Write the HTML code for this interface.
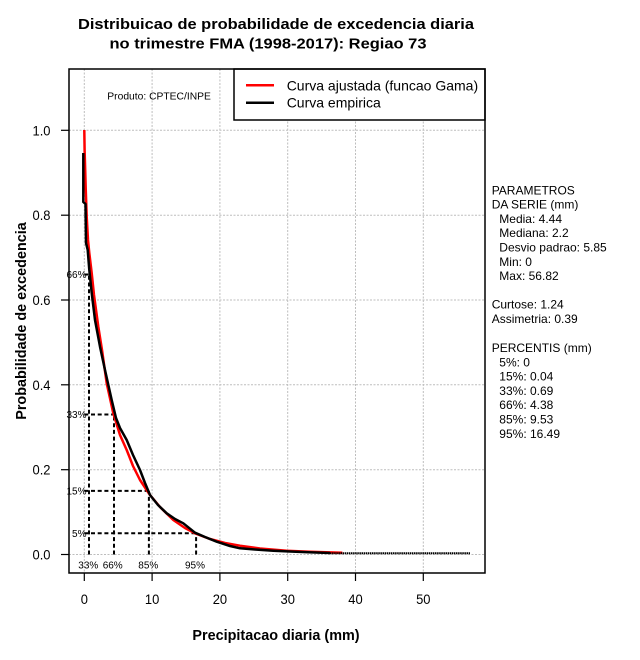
<!DOCTYPE html>
<html><head><meta charset="utf-8"><style>
html,body{margin:0;padding:0;background:#fff;}
svg{display:block;}
text{font-family:"Liberation Sans",Arial,sans-serif;fill:#000;}
</style></head><body>
<svg width="640" height="660" viewBox="0 0 640 660" xmlns="http://www.w3.org/2000/svg">
<rect x="0" y="0" width="640" height="660" fill="#fff"/>
<!-- Title -->
<text x="78" y="29" font-size="14.5" font-weight="bold" textLength="396" lengthAdjust="spacingAndGlyphs">Distribuicao de probabilidade de excedencia diaria</text>
<text x="109.5" y="48.5" font-size="14.5" font-weight="bold" textLength="317" lengthAdjust="spacingAndGlyphs">no trimestre FMA (1998-2017): Regiao 73</text>

<!-- grid -->
<g stroke="#bdbdbd" stroke-width="1" stroke-dasharray="2,1.5" fill="none">
<line x1="84.3" y1="69" x2="84.3" y2="573"/>
<line x1="152.1" y1="69" x2="152.1" y2="573"/>
<line x1="219.9" y1="69" x2="219.9" y2="573"/>
<line x1="287.7" y1="69" x2="287.7" y2="573"/>
<line x1="355.5" y1="69" x2="355.5" y2="573"/>
<line x1="423.3" y1="69" x2="423.3" y2="573"/>
<line x1="69" y1="554.5" x2="485" y2="554.5"/>
<line x1="69" y1="469.7" x2="485" y2="469.7"/>
<line x1="69" y1="384.8" x2="485" y2="384.8"/>
<line x1="69" y1="300" x2="485" y2="300"/>
<line x1="69" y1="215.2" x2="485" y2="215.2"/>
<line x1="69" y1="130.3" x2="485" y2="130.3"/>
</g>

<!-- percentile dashed lines -->
<g stroke="#000" stroke-width="2" stroke-dasharray="4,2.7" fill="none">
<line x1="84.3" y1="274.5" x2="89" y2="274.5"/>
<line x1="84.3" y1="414.5" x2="114" y2="414.5"/>
<line x1="84.3" y1="490.9" x2="148.9" y2="490.9"/>
<line x1="84.3" y1="533.3" x2="196.1" y2="533.3"/>
<line x1="89" y1="554.5" x2="89" y2="274.5"/>
<line x1="114" y1="554.5" x2="114" y2="414.5"/>
<line x1="148.9" y1="554.5" x2="148.9" y2="490.9"/>
<line x1="196.1" y1="554.5" x2="196.1" y2="533.3"/>
</g>

<!-- red fitted curve -->
<polyline fill="none" stroke="#ff0000" stroke-width="2.5" stroke-linejoin="round" points="84.3,130 84.6,150 85.2,170 85.7,188 86.7,216.7 88,240 89.3,253 91.7,273 94,295 98.3,326.7 102,350 106.7,383.3 113.3,413.3 120,435 126.7,450 133,466 140,480 150,495 160,507 173.3,520 185,528 195,533.3 210,539 225,543 240,545.7 260,548.5 286.7,550.7 310,551.8 342.3,552.7"/>
<!-- black empirical curve -->
<polyline fill="none" stroke="#000" stroke-width="2.5" stroke-linejoin="round" points="83.3,153 83.3,202 85.5,204 86,243 87.7,250 89.3,270 91.7,293 95,320 100,346.7 105,370 111.7,400 116,418 120,428 126.7,440 133,455 140,470 145,483 150,495 158,505 166.7,513.3 175,519 183.3,523.3 195,532.7 205,537 216.7,541.7 230,546 240,548.3 255,549.5 273.3,550.7 290,551.5 308.3,552.3 330,553"/>
<line x1="330" y1="553.2" x2="470" y2="553.2" stroke="#000" stroke-width="2" stroke-dasharray="1.5,0.6"/>

<!-- percentile labels -->
<g font-size="10">
<text x="86.5" y="278" text-anchor="end">66%</text>
<text x="86.5" y="418" text-anchor="end">33%</text>
<text x="86.5" y="494.5" text-anchor="end">15%</text>
<text x="86.5" y="537" text-anchor="end">5%</text>
<text x="88.3" y="568.6" text-anchor="middle">33%</text>
<text x="112.7" y="568.6" text-anchor="middle">66%</text>
<text x="148.3" y="568.6" text-anchor="middle">85%</text>
<text x="195" y="568.6" text-anchor="middle">95%</text>
</g>

<!-- Produto -->
<text x="107.3" y="99.5" font-size="10.3">Produto: CPTEC/INPE</text>

<!-- legend -->
<rect x="234" y="69" width="251" height="51" fill="#fff" stroke="#000" stroke-width="1.5"/>
<line x1="246" y1="85.3" x2="274" y2="85.3" stroke="#ff0000" stroke-width="2.5"/>
<line x1="246" y1="102.7" x2="274" y2="102.7" stroke="#000" stroke-width="2.5"/>
<text x="286.7" y="90.3" font-size="14">Curva ajustada (funcao Gama)</text>
<text x="286.7" y="107.7" font-size="14">Curva empirica</text>

<!-- plot frame -->
<rect x="69" y="69" width="416" height="504" fill="none" stroke="#000" stroke-width="1.5"/>

<!-- axes ticks -->
<g stroke="#000" stroke-width="1.2">
<line x1="61" y1="554.5" x2="69" y2="554.5"/>
<line x1="61" y1="469.7" x2="69" y2="469.7"/>
<line x1="61" y1="384.8" x2="69" y2="384.8"/>
<line x1="61" y1="300" x2="69" y2="300"/>
<line x1="61" y1="215.2" x2="69" y2="215.2"/>
<line x1="61" y1="130.3" x2="69" y2="130.3"/>
<line x1="84.3" y1="573" x2="84.3" y2="581"/>
<line x1="152.1" y1="573" x2="152.1" y2="581"/>
<line x1="219.9" y1="573" x2="219.9" y2="581"/>
<line x1="287.7" y1="573" x2="287.7" y2="581"/>
<line x1="355.5" y1="573" x2="355.5" y2="581"/>
<line x1="423.3" y1="573" x2="423.3" y2="581"/>
</g>
<g font-size="14">
<text x="32.5" y="559.5" textLength="18" lengthAdjust="spacingAndGlyphs">0.0</text>
<text x="32.5" y="474.7" textLength="18" lengthAdjust="spacingAndGlyphs">0.2</text>
<text x="32.5" y="389.8" textLength="18" lengthAdjust="spacingAndGlyphs">0.4</text>
<text x="32.5" y="305" textLength="18" lengthAdjust="spacingAndGlyphs">0.6</text>
<text x="32.5" y="220.2" textLength="18" lengthAdjust="spacingAndGlyphs">0.8</text>
<text x="32.5" y="135.3" textLength="18" lengthAdjust="spacingAndGlyphs">1.0</text>
</g>
<g font-size="14">
<text x="80.7" y="604" textLength="7.2" lengthAdjust="spacingAndGlyphs">0</text>
<text x="144.9" y="604" textLength="14.4" lengthAdjust="spacingAndGlyphs">10</text>
<text x="212.7" y="604" textLength="14.4" lengthAdjust="spacingAndGlyphs">20</text>
<text x="280.5" y="604" textLength="14.4" lengthAdjust="spacingAndGlyphs">30</text>
<text x="348.3" y="604" textLength="14.4" lengthAdjust="spacingAndGlyphs">40</text>
<text x="416.1" y="604" textLength="14.4" lengthAdjust="spacingAndGlyphs">50</text>
</g>

<!-- axis titles -->
<text x="276" y="640" font-size="14.4" font-weight="bold" text-anchor="middle">Precipitacao diaria (mm)</text>
<text transform="translate(26,321) rotate(-90)" font-size="14.4" font-weight="bold" text-anchor="middle">Probabilidade de excedencia</text>

<!-- side text -->
<g font-size="12">
<text x="491.7" y="194.3">PARAMETROS</text>
<text x="491.7" y="208.6">DA SERIE (mm)</text>
<text x="499.3" y="222.9">Media: 4.44</text>
<text x="499.3" y="237.2">Mediana: 2.2</text>
<text x="499.3" y="251.5">Desvio padrao: 5.85</text>
<text x="499.3" y="265.8">Min: 0</text>
<text x="499.3" y="280.1">Max: 56.82</text>
<text x="491.7" y="308.7">Curtose: 1.24</text>
<text x="491.7" y="323">Assimetria: 0.39</text>
<text x="491.7" y="352">PERCENTIS (mm)</text>
<text x="499.3" y="366.3">5%: 0</text>
<text x="499.3" y="380.6">15%: 0.04</text>
<text x="499.3" y="394.9">33%: 0.69</text>
<text x="499.3" y="409.2">66%: 4.38</text>
<text x="499.3" y="423.5">85%: 9.53</text>
<text x="499.3" y="437.8">95%: 16.49</text>
</g>
</svg>
</body></html>
